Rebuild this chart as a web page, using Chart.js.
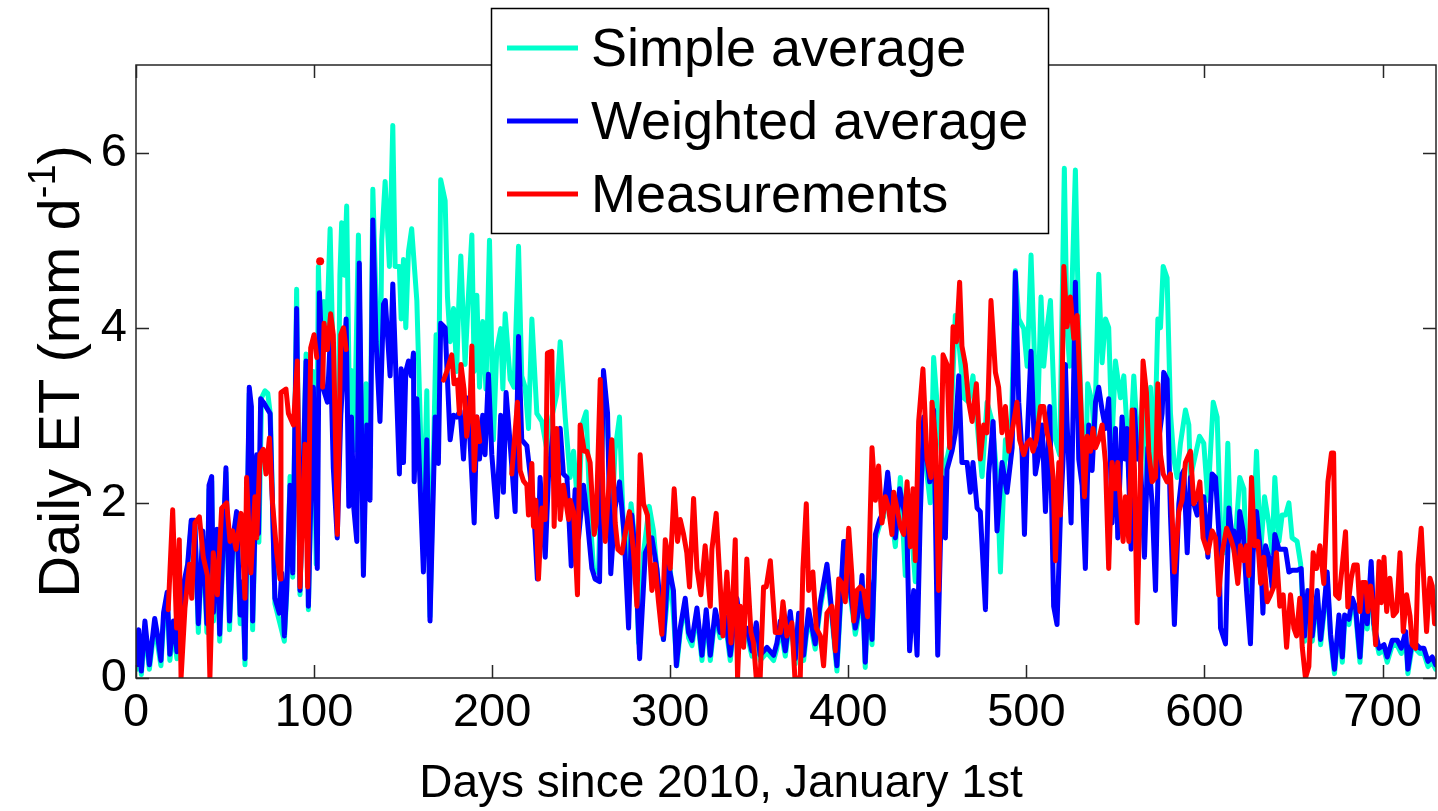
<!DOCTYPE html>
<html>
<head>
<meta charset="utf-8">
<script src="https://cdn.jsdelivr.net/npm/chart.js@4.4.1/dist/chart.umd.min.js"></script>
<style>
  html, body { margin: 0; padding: 0; background: #fff; }
  canvas { display: block; }
</style>
</head>
<body>
<canvas id="etChart" width="1438" height="811"></canvas>
<script>
// daily ET, 2010-2011, three series read as (day, value) pairs
const simpleDay = [0.5,1.5,3,5,7.5,10.5,14,15.5,17.5,19,21,23,26.5,29,31,33,35,37.5,39.8,41,42.5,43.5,45.5,47,50.5,52.5,54.5,56.5,58.5,60,61.2,63.6,65.5,67.8,69,70.5,72.4,74,75.5,78,80.5,83.3,84.6,86.5,88,90.2,92.1,95.5,96.8,99.6,101.2,102.4,104,105.5,107,109,110.8,113,114.5,115.5,117,118.3,120,121.3,122.5,124.9,127.7,129.2,131.4,133,135.6,137,138,139.9,142.3,144.2,145.5,147.9,148.9,150.2,151.5,153,154.8,157.7,160.5,161.5,163.3,165.1,168.5,170,171.1,173.6,174.9,176.4,178.3,180.1,181,182.4,184.8,186.5,188.6,189.9,191.4,192.9,194.7,196.5,198.5,200.7,202.6,204.8,206,207.3,210.1,212.3,214.8,216.6,218.5,220.4,222.3,225.1,227.9,231,233.5,236.3,238.2,241,243.8,245.7,248.5,250.4,252.8,255,256.9,259.7,262.5,264.4,267.2,269,271.5,273.8,275.6,278,280.3,282.2,285,288.2,290.6,293.4,296.2,300,303.7,305.6,308.4,310.3,312.2,315,317.8,320.2,322.5,325.3,328,330.9,333.7,337.4,340.2,343,345.9,348.3,350.5,354.3,358,359.9,361.8,364.6,367.4,370.2,372.1,374.9,377.7,381.4,384.3,388,390.8,393.6,395.5,397.4,399.6,401.1,403.9,406.4,407.7,409.5,411.4,413.3,415.2,417.6,419.8,422.1,424.5,426.4,429.2,432,434.8,437.6,440.4,443.2,446,447.9,450.7,453.5,457.3,460.1,462,464.8,467.6,470,473.2,475.1,477.9,480.7,483.5,485.4,488.2,491,493.8,495.7,498.5,500.4,502.6,504.1,506,508.2,509.7,511.6,513.5,516.3,518.7,521.3,522.8,524.3,527.5,529.4,531.3,533.1,534.4,536.9,538.2,540.6,542.5,544.4,546.2,548.1,550,552.8,554.7,556.5,557.5,560.3,563.1,565.5,567.8,569.7,571.6,573.8,575.3,576.8,579,580.9,582.8,584.6,586.5,589.3,591.2,592.1,594.4,597.2,599.6,601.9,604.9,607.1,609,611.2,613.1,614.6,616.8,619.8,622.1,624,626.2,629.2,631.5,633.7,636.1,638,639.5,641.8,643.6,645.5,647.4,649.2,652,654,656.2,658,660.5,663.3,665.2,667,668.9,670.8,673,675.5,677.4,678.7,681.1,683,684.8,687.3,689.5,691.4,693.6,695.1,698,700.8,702.6,705.4,708.3,710.5,713,714.2,716.7,719.1,721,723.2,725.5,727.9,729.8];
const simpleET = [0.1,0.45,0.04,0.55,0.1,0.6,0.14,0.65,0.9,0.2,0.55,0.22,0.98,1.25,1.75,1.75,0.52,1.62,0.52,2.15,2.25,0.65,1.62,0.42,2.35,0.55,1.55,1.85,0.62,1.05,0.15,3.25,0.55,2.45,1.55,3.2,3.28,3.25,3.0,0.85,0.65,0.42,0.95,2.3,1.15,4.44,0.95,3.7,0.78,3.5,1.3,4.7,3.6,4.3,3.9,5.13,3.5,1.75,4.6,5.2,4.6,5.39,2.9,3.51,2.6,5.06,1.25,3.36,2.4,5.58,3.75,3.1,5.0,5.67,4.7,6.31,4.7,4.7,4.1,4.78,4.0,4.87,5.13,4.31,2.29,1.8,3.28,0.7,3.92,3.3,5.69,5.45,4.35,3.84,4.22,3.5,4.14,4.82,3.58,4.3,5.06,3.5,4.37,3.32,4.07,3.3,5.0,2.72,3.75,3.99,3.3,4.16,3.41,3.32,4.93,3.45,3.32,2.85,4.1,3.02,2.93,2.57,2.98,3.24,3.84,2.98,2.29,2.59,1.85,2.89,3.04,1.85,1.25,1.2,3.3,3.0,1.75,2.6,2.98,1.64,1.2,1.99,1.52,0.4,1.43,1.96,1.68,1.0,0.44,1.25,0.14,0.52,0.85,0.46,0.37,0.74,0.2,0.72,0.2,0.72,0.46,0.64,0.2,0.85,0.42,0.51,0.25,0.57,0.2,0.29,0.2,0.34,0.59,0.25,0.7,0.16,0.68,0.2,0.72,0.33,0.81,1.22,0.68,0.08,0.8,1.5,1.5,0.94,0.5,0.77,1.1,0.12,1.05,0.38,1.58,1.75,1.84,2.3,1.8,1.5,2.29,1.17,1.85,1.1,2.4,2.5,2.0,3.66,2.9,2.3,2.7,4.14,3.85,3.2,3.15,3.45,2.7,2.3,3.15,2.93,2.3,1.21,2.72,2.46,4.65,4.1,3.99,3.56,4.83,3.92,2.72,4.35,3.56,3.99,4.31,2.72,2.55,5.82,3.99,3.56,5.8,3.99,2.72,2.16,3.36,3.15,2.72,4.61,3.6,4.1,4.0,2.72,3.62,3.2,3.45,2.85,2.3,3.45,2.5,3.32,2.16,3.32,2.29,4.1,4.0,4.7,4.57,3.02,2.5,2.29,2.68,3.06,2.89,2.29,2.5,2.76,2.68,2.03,3.15,2.98,1.73,1.43,2.68,1.65,1.43,2.29,2.16,1.08,1.0,2.59,1.43,2.07,1.77,1.43,2.29,1.56,1.86,1.86,2.0,1.6,1.56,1.3,0.42,0.95,0.42,0.95,0.38,0.72,1.15,0.45,0.05,0.66,0.18,0.66,0.61,0.85,0.75,0.18,0.89,0.56,1.27,0.56,0.28,0.32,0.18,0.37,0.37,0.28,0.47,0.05,0.37,0.32,0.28,0.28,0.13,0.18,0.1];

const weightedDay = [0.5,1.5,3,5,7.5,10.5,12,14,15.5,17.5,19,21,23,26.5,29,31,33,35,37.5,39.8,41,42.5,43.5,45.5,47,50.5,52.5,54.5,56.5,58.5,60,61.2,63.6,64.8,65.5,67.8,68.8,70,71.5,75.3,78,80.5,81.8,83.3,84.6,86.5,88,90.2,92.1,95.5,96.8,99.6,101.8,103,105.2,107.5,109,110.8,113,115,118,119.5,121,122.3,124,125.4,127.7,129.6,131.4,133,134.8,137,139,140,142.7,144.2,147.9,148.9,150.2,151.5,153,154.5,155.8,156.2,157.7,161.4,163.3,165.1,168,169.8,171.1,173.6,176.4,178.3,180.1,182,183.9,185.7,187.6,189.9,191.4,192.9,194.7,196,197.9,199.8,202.6,204.8,206.3,207.8,210,212.9,214.8,216.6,219.5,221.3,223.2,225.4,226.9,229.8,231.6,234.4,236.3,238.2,240,242,244.4,246.6,248.5,251.3,253.2,256,257.8,260.3,262.5,264.8,266.6,269,271.5,274.1,276.6,278.4,280.3,282.8,286,289.7,292.5,296.2,299,301.8,303.4,305.6,308.4,310.3,312.2,315,317.8,320.2,322.5,325.3,328,330.9,333.7,337.4,340.2,343,345.9,348.3,350.5,354.3,358,359.9,361.8,364.6,367.4,370.2,372.1,374.9,377.7,381.4,384.3,388,390.8,393.6,395.5,397.4,399.6,401.1,403.9,406.4,407.7,409.5,411.4,413.3,415.2,417.6,419.8,422.1,424.5,426.4,428.8,431.4,433,434.4,436.7,438.6,440.4,442.3,444.2,445.7,447.9,450.2,452.6,454.5,455.4,458.2,460.1,462,463.8,466.7,468.5,470,472.3,474.1,477,478.8,481.3,483.5,486.3,489.1,492,493.8,495.7,497.6,498.9,500.4,502.6,505,506.9,508.8,510.7,513.1,515.3,517.2,519.1,520.6,521.9,522.8,525.1,527.5,529.4,531.3,533.1,535,536.9,538.8,540.6,542.5,544.4,546.2,548.1,550,551.3,553.7,555.4,556.5,558.8,560.7,562.2,564,566.3,568.2,570.6,572.5,574.3,576.2,577.1,579,580.9,583.1,585.6,587.4,588.4,590.3,592.1,594,595.9,597.8,599.6,601.9,604.3,606.2,608,609,611.8,613.7,615.6,616.5,618.3,619.8,621.7,623.6,625.8,627.3,629.2,631.5,632.8,634.3,636.1,638,639.5,641.8,643.6,645.5,647.4,649.2,652,654.3,656.2,658,660.5,663.3,665.2,667,668.9,670.8,673,675.5,677.4,678.7,681.1,683,684.8,687.3,689.5,691.4,693.6,695.1,698,700.8,702.6,705.4,708.3,710.5,713,714.2,716.7,719.1,721,723.2,725.5,727.9,729.8];
const weightedET = [0.15,0.55,0.08,0.65,0.15,0.68,0.5,0.2,0.75,0.98,0.27,0.65,0.3,1.05,1.3,1.8,1.8,0.62,1.68,0.62,2.2,2.3,0.75,1.7,0.5,2.4,0.65,1.6,1.9,0.72,1.1,0.22,3.32,3.1,0.65,2.55,1.65,3.19,3.15,3.02,0.91,0.74,1.2,0.48,1.0,2.2,1.2,4.22,1.0,3.62,0.82,3.32,1.25,4.4,3.3,3.15,3.84,2.4,1.6,3.0,4.1,1.96,2.98,1.94,1.56,4.74,1.17,2.89,2.03,5.23,3.84,2.93,4.27,4.31,3.45,4.5,2.33,3.53,2.46,3.5,3.62,3.45,3.71,2.24,3.19,1.21,2.72,0.65,2.98,2.45,4.05,4.0,2.72,3.0,2.98,3.05,2.5,3.2,2.7,1.77,2.98,2.5,3.0,2.55,3.47,2.55,1.84,3.0,2.12,3.26,2.7,1.9,3.9,2.72,2.65,2.33,1.98,1.13,2.29,1.38,2.29,2.85,2.72,2.85,2.33,2.29,1.28,2.15,1.6,2.2,1.85,1.25,1.13,1.1,3.51,3.02,1.19,1.94,2.24,1.64,0.57,1.86,1.43,0.22,1.43,1.6,1.25,0.44,1.3,1.0,0.14,0.57,0.91,0.52,0.43,0.8,0.26,0.78,0.26,0.78,0.52,0.7,0.26,0.91,0.48,0.57,0.31,0.63,0.26,0.35,0.26,0.4,0.65,0.31,0.76,0.22,0.74,0.26,0.78,0.39,0.87,1.3,0.74,0.14,0.87,1.56,1.56,1.0,0.57,0.83,1.17,0.18,1.12,0.44,1.64,1.81,1.9,2.35,1.86,1.6,2.16,1.9,1.6,0.31,1.0,0.26,1.86,2.98,2.5,2.24,3.06,0.26,2.29,1.6,2.38,2.59,2.8,3.45,2.46,2.46,2.12,2.46,1.94,1.9,0.78,2.33,2.93,1.68,2.46,2.12,2.63,4.63,3.15,2.55,1.64,2.72,3.73,2.33,2.55,2.89,1.9,3.1,0.82,0.61,1.86,2.5,3.58,2.93,1.77,4.52,2.5,2.2,1.25,2.89,2.37,3.15,3.32,3.06,2.85,3.19,1.77,2.85,1.6,2.98,2.5,2.85,1.47,3.06,2.5,2.5,1.38,2.63,1.99,1.0,2.72,3.02,3.49,3.41,1.86,0.61,1.99,2.33,2.37,1.43,2.29,1.99,1.86,2.07,2.07,1.38,2.33,2.29,1.68,0.57,0.39,1.94,1.6,1.68,1.21,1.9,1.68,1.0,0.39,1.43,1.9,1.43,0.74,1.51,1.38,1.04,1.64,1.47,1.47,1.47,1.21,1.23,1.23,1.25,0.48,1.0,0.48,1.0,0.44,0.78,1.21,0.5,0.1,0.72,0.24,0.72,0.67,0.91,0.81,0.24,0.95,0.62,1.33,0.62,0.34,0.38,0.24,0.43,0.43,0.34,0.53,0.1,0.43,0.38,0.34,0.34,0.19,0.24,0.15];

// measurements have gaps (null) where no data were logged
const measDay = [18.1,20.6,22.8,24.3,25.3,27.5,30,31.3,33.1,35.6,37.8,40.1,41.5,43.4,45.7,48.1,50.9,52.8,54.3,56.2,59,61.2,62.1,64.5,66.8,67.8,69.6,71.5,73,74.9,76.7,79,80.9,81.4,84.2,85.6,88.4,90.6,92.1,94.9,96.4,98.1,100,101.5,102.4,103.4,104.1,104.8,105.6,107.5,109.3,110.8,113.1,115,116.5,118,145,172.7,174.5,177.3,178.6,180.5,181.6,182.5,184.2,185.7,187.6,188.6,189.9,191.4,193,200,211,214.2,215.7,217.6,219.5,220.4,222.3,223.2,224.5,226,227.9,229.8,231,233.5,234.8,236.3,238.2,240,242.9,243.8,245.7,247.9,249.4,251.7,253.2,255,257.3,258.4,260.7,262.5,263.5,265.3,267.2,269.1,270.6,272.8,274.7,277.1,279.4,281.3,283.1,285,287.2,289.7,291.5,293.4,295.3,297.2,300,302.2,304.1,305.6,307.5,309.3,310.8,313.1,315,317.2,319.6,322.5,323.4,325.8,328.1,329.6,331.8,334.1,336.5,337.8,339.3,341.2,343,345.3,346.8,348.3,350.5,352.4,353.9,356.2,359,361.8,363.3,365.5,368.3,370,371.1,373,374.5,376.4,377.7,380.1,382,384.3,386.1,388,390.8,392.7,394.6,396.4,398.3,400.2,402,403,404.8,406.7,408.6,410.8,413.3,415.2,417,418.9,420.8,422.6,424.5,425.5,427.7,429.2,431.1,433,434.8,436.3,437.6,439.5,441.9,444.2,446.4,447,448.9,450.7,453.2,455.4,456.9,458.8,460.7,462.5,463.8,465.7,467.6,469.5,471.9,474.1,476,477.9,480.1,482.6,484.4,486.3,488.2,490.1,492.9,494.7,496.2,498.5,500.4,502.2,503.7,505.6,507.9,509.7,511.6,513.5,515,516.3,518.2,519.1,521,522.8,524.7,526.6,528.5,530.3,532.6,534.1,536,537.4,538.8,540.6,542.5,544.4,546.2,548.1,550,551.3,553.2,554.3,555.6,557.5,559.4,560.7,562.2,563.7,565.5,567.4,568.7,570.6,572.5,573.8,575.3,576.8,579,580.9,583.1,585.6,587.4,589.3,592.1,594,595.9,597.4,599.2,601.9,604.3,606.2,608,609.9,612.4,614.6,616.5,618.7,620.2,622.1,623.6,624.9,626.4,628.1,630,631.5,633.3,635.2,637.1,638.9,640.4,642.3,644.2,646.1,648.3,650.2,651.7,653.5,654.9,656.7,658.6,661,662.9,664.8,667,669.3,671.3,672.5,673.6,675.5,677.4,679.2,680.5,682.4,683.9,685.8,687.3,688.6,690.5,691.8,693.3,694.8,696.1,698,699.3,700.8,702.3,704.1,706,707.9,709.8,711.6,713.5,715.4,716.7,718.6,719.9,721.7,723.2,724.7,726.6,727.9,729.2];
const measET = [0.78,1.92,0.57,1.58,0,0.8,1.3,0.91,1.77,1.84,1.38,1.17,0,1.43,0.95,1.94,2.0,1.56,1.68,1.47,1.88,0.91,2.29,1.2,2.07,1.6,2.55,2.61,2.33,2.74,1.99,1.43,1.13,3.26,3.3,3.02,2.89,3.62,1.04,2.67,1.04,3.77,3.92,3.66,null,4.76,null,3.32,4.05,3.75,4.16,3.92,1.64,3.92,4.0,3.75,null,3.4,3.5,3.69,3.36,3.4,3.02,3.58,3.3,2.76,3.1,3.79,2.37,2.98,2.7,null,2.33,3.15,2.37,2.25,2.2,1.86,2.45,1.73,2.03,1.13,1.94,1.81,3.71,3.73,1.73,2.85,1.81,2.2,1.81,2.03,1.9,0.95,2.89,2.59,2.59,2.46,1.64,1.77,3.41,1.86,1.56,2.12,2.72,1.77,1.47,1.43,1.64,1.9,1.43,0.82,2.55,1.99,1.86,1.0,1.3,0.87,0.5,1.58,1.25,2.16,1.56,1.81,1.64,1.43,1.04,2.05,1.25,0.95,1.51,0.82,1.47,1.88,1.04,0.48,1.21,0.4,1.58,0,0.82,0.35,1.36,0.52,0.4,0,0,1.04,1.04,1.34,0.52,0.52,0.87,0.48,0.63,0,0,0,1.25,1.99,1.0,1.21,0.57,0.48,0.14,0.74,0.82,0.31,1.13,1.08,0.87,1.71,1.17,0.65,1.0,1.04,1.0,0.7,2.63,2.03,2.42,1.77,2.07,1.94,1.64,2.12,1.9,1.73,1.64,2.24,1.5,2.16,1.34,2.93,3.53,2.5,2.29,3.15,2.72,1.0,3.69,3.58,2.63,4.01,3.84,4.52,3.79,3.58,3.15,2.93,3.36,2.5,2.89,2.8,4.31,3.49,3.32,2.8,3.1,2.59,2.93,3.15,2.72,2.55,2.68,2.72,2.59,2.72,3.1,3.1,2.8,2.63,2.29,1.34,2.46,1.86,4.7,4.01,4.35,3.88,4.14,3.24,2.07,2.76,2.59,2.85,2.63,2.72,2.89,2.46,1.25,2.46,2.16,2.46,1.86,1.56,2.07,1.56,3.06,2.37,0.63,1.99,3.62,3.26,2.59,2.24,2.29,3.36,2.55,2.33,2.24,2.33,1.21,1.9,2.03,2.46,2.59,1.99,2.07,2.24,1.6,1.43,1.68,1.6,0.95,1.43,1.71,1.6,1.47,1.08,1.51,1.34,1.51,1.17,2.29,1.51,1.56,1.08,1.38,0.87,0.95,1.04,1.43,0.82,0.95,0.35,0.95,0.57,0.48,0.91,0.35,0,0.13,1.43,1.25,1.51,1.08,2.24,2.57,2.57,0.95,0.91,1.29,1.67,0.81,1.14,1.29,1.29,0.76,1.09,1.09,0.76,1.05,0.81,0.38,1.33,0.86,1.38,0.76,1.14,0.71,0.76,1.43,0.53,0.95,0.71,0.38,0.34,1.29,1.71,1.09,0.53,1.14,1.05,0.62];

const xTicks = [0, 100, 200, 300, 400, 500, 600, 700];
const yTicks = [0, 2, 4, 6];
const seriesLabels = ['Simple average', 'Weighted average', 'Measurements'];
const seriesColors = ['#00ffcc', '#0000ff', '#ff0000'];

function toPoints(days, vals) {
  return days.map((d, i) => ({ x: d, y: vals[i] }));
}

const FONT = '"Liberation Sans", Arial, sans-serif';

// MATLAB style box: inward ticks on all four sides, boxed legend, superscript unit
const axesBox = {
  id: 'axesBox',
  afterDatasetsDraw(chart) {
    const { ctx, chartArea: a, scales: { x, y } } = chart;
    ctx.save();
    ctx.strokeStyle = '#262626';
    ctx.lineWidth = 1.5;
    ctx.strokeRect(a.left, a.top, a.right - a.left, a.bottom - a.top);
    const len = 13;
    ctx.beginPath();
    xTicks.forEach(v => {
      const px = Math.round(x.getPixelForValue(v)) + 0.5;
      ctx.moveTo(px, a.bottom); ctx.lineTo(px, a.bottom - len);
      ctx.moveTo(px, a.top); ctx.lineTo(px, a.top + len);
    });
    yTicks.forEach(v => {
      const py = Math.round(y.getPixelForValue(v)) + 0.5;
      ctx.moveTo(a.left, py); ctx.lineTo(a.left + len, py);
      ctx.moveTo(a.right, py); ctx.lineTo(a.right - len, py);
    });
    ctx.stroke();
    ctx.restore();
  },
  afterDraw(chart) {
    const { ctx, chartArea: a } = chart;
    ctx.save();

    // legend
    const bx = 491, by = 8, bw = 557, bh = 225;
    ctx.fillStyle = '#fff';
    ctx.fillRect(bx, by, bw, bh);
    ctx.strokeStyle = '#000';
    ctx.lineWidth = 1.5;
    ctx.strokeRect(bx + 0.5, by + 0.5, bw, bh);
    const rowY = [48, 121, 194];
    ctx.font = '54px ' + FONT;
    ctx.textBaseline = 'middle';
    ctx.textAlign = 'left';
    seriesLabels.forEach((lab, i) => {
      ctx.strokeStyle = seriesColors[i];
      ctx.lineWidth = 5;
      ctx.beginPath();
      ctx.moveTo(507, rowY[i]);
      ctx.lineTo(578, rowY[i]);
      ctx.stroke();
      ctx.fillStyle = '#000';
      ctx.fillText(lab, 591, rowY[i] + 3);
    });

    // x title
    ctx.font = '46px ' + FONT;
    ctx.textAlign = 'center';
    ctx.textBaseline = 'alphabetic';
    ctx.fillText('Days since 2010, January 1st', 721, 797);

    // y title with superscript
    ctx.translate(79, (a.top + a.bottom) / 2);
    ctx.rotate(-Math.PI / 2);
    const main = 'Daily ET (mm d', sup = '-1', tail = ')';
    ctx.font = '58px ' + FONT;
    const w1 = ctx.measureText(main).width, w3 = ctx.measureText(tail).width;
    ctx.font = '38px ' + FONT;
    const w2 = ctx.measureText(sup).width;
    let cx = -(w1 + w2 + w3) / 2;
    ctx.textAlign = 'left';
    ctx.font = '58px ' + FONT;
    ctx.fillText(main, cx, 0);
    cx += w1;
    ctx.font = '38px ' + FONT;
    ctx.fillText(sup, cx, -24);
    cx += w2;
    ctx.font = '58px ' + FONT;
    ctx.fillText(tail, cx, 0);
    ctx.restore();
  }
};

function isolated(ctx) {
  const d = ctx.dataset.data, i = ctx.dataIndex;
  const prev = i > 0 ? d[i - 1].y : null;
  const next = i < d.length - 1 ? d[i + 1].y : null;
  return d[i].y !== null && prev === null && next === null;
}

new Chart(document.getElementById('etChart'), {
  type: 'line',
  data: {
    datasets: [
      { label: seriesLabels[0], data: toPoints(simpleDay, simpleET), borderColor: seriesColors[0], order: 3 },
      { label: seriesLabels[1], data: toPoints(weightedDay, weightedET), borderColor: seriesColors[1], order: 2 },
      {
        label: seriesLabels[2], data: toPoints(measDay, measET), borderColor: seriesColors[2], order: 1,
        pointRadius: ctx => isolated(ctx) ? 4 : 0,
        pointBackgroundColor: seriesColors[2], pointBorderWidth: 0
      }
    ]
  },
  options: {
    responsive: false,
    animation: false,
    devicePixelRatio: 1,
    parsing: false,
    elements: {
      line: { borderWidth: 5, tension: 0, borderJoinStyle: 'round', borderCapStyle: 'round', fill: false },
      point: { radius: 0, hoverRadius: 0 }
    },
    layout: { padding: { top: 65, right: 2, left: 0, bottom: 0 } },
    plugins: { legend: { display: false }, tooltip: { enabled: false } },
    scales: {
      x: {
        type: 'linear', min: 0, max: 730,
        afterFit: s => { s.height = 133; },
        afterBuildTicks: s => { s.ticks = xTicks.map(v => ({ value: v })); },
        grid: { display: false, drawTicks: false },
        border: { display: false },
        ticks: { padding: 7, color: '#000', font: { size: 47, family: FONT }, maxRotation: 0, autoSkip: false }
      },
      y: {
        min: 0, max: 7,
        afterFit: s => { s.width = 136; },
        afterBuildTicks: s => { s.ticks = yTicks.map(v => ({ value: v })); },
        grid: { display: false, drawTicks: false },
        border: { display: false },
        ticks: { padding: 9, color: '#000', font: { size: 47, family: FONT } }
      }
    }
  },
  plugins: [axesBox]
});
</script>
</body>
</html>
